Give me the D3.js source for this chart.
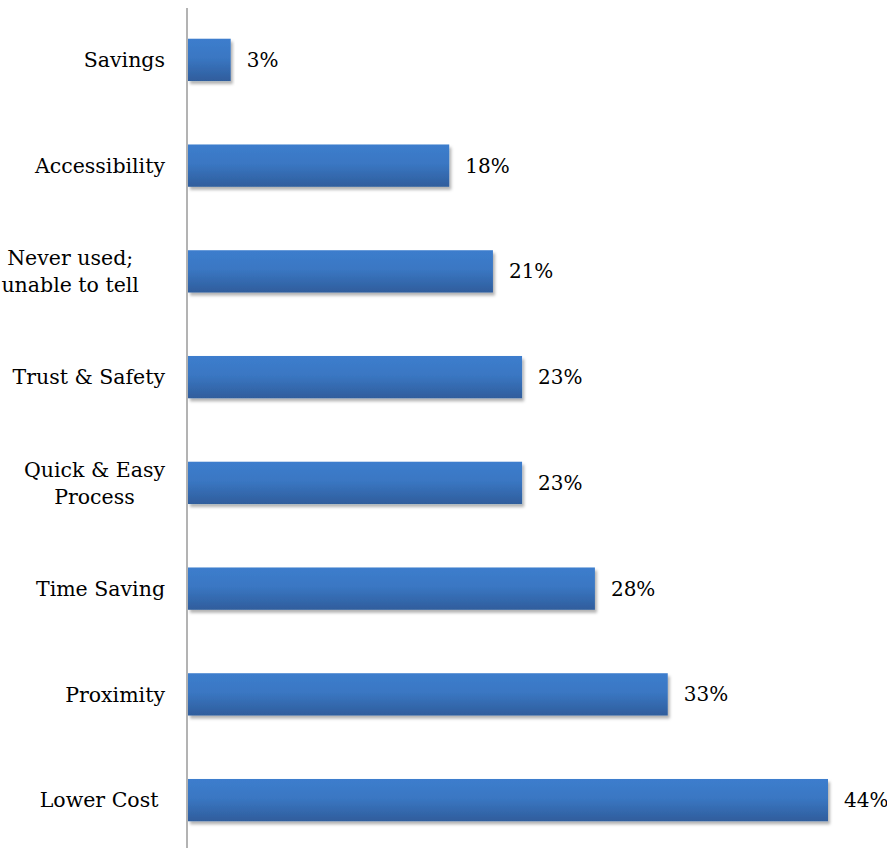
<!DOCTYPE html>
<html>
<head>
<meta charset="utf-8">
<script src="https://cdn.jsdelivr.net/npm/d3@7"></script>
<style>
  html, body { margin: 0; padding: 0; background: #fff; }
  svg { display: block; }
  text { white-space: pre; }
</style>
</head>
<body>
<svg id="chart" width="887" height="848"></svg>
<script>
// Reasons given, top to bottom, with the share of respondents (%)
const categories = [
  ["Savings"],
  ["Accessibility"],
  ["Never used;", "unable to tell    "],
  ["Trust & Safety"],
  ["Quick & Easy", "Process"],
  ["Time Saving"],
  ["Proximity"],
  ["Lower Cost "]
];
const values = [3, 18, 21, 23, 23, 28, 33, 44];
const valueLabels = ["3%", "18%", "21%", "23%", "23%", "28%", "33%", "44%"];

const svg = d3.select("#chart");
const axisX = 187;
const labelRight = 165;
const font = "'DejaVu Serif', 'Liberation Serif', serif";

const keys = categories.map((c, i) => i);
const y = d3.scaleBand().domain(keys).range([7, 853]).paddingInner(0.6).paddingOuter(0.3);
const x = d3.scaleLinear().domain([0, 44]).range([axisX, axisX + 641]);

// Bar fill: lighter blue at the top to a deeper blue at the bottom
const defs = svg.append("defs");
const grad = defs.append("linearGradient").attr("id", "barFill")
  .attr("x1", 0).attr("y1", 0).attr("x2", 0).attr("y2", 1);
grad.append("stop").attr("offset", "0%").attr("stop-color", "#3c7dcd");
grad.append("stop").attr("offset", "45%").attr("stop-color", "#3a77c3");
grad.append("stop").attr("offset", "100%").attr("stop-color", "#2f5d9c");

const shadow = defs.append("filter").attr("id", "barShadow")
  .attr("x", "-5%").attr("y", "-20%").attr("width", "115%").attr("height", "160%");
shadow.append("feDropShadow").attr("dx", 2).attr("dy", 3).attr("stdDeviation", 1.8)
  .attr("flood-color", "#000").attr("flood-opacity", 0.3);

svg.append("g").selectAll("rect")
  .data(values)
  .join("rect")
  .attr("x", x(0) + 1)
  .attr("y", (d, i) => y(i))
  .attr("width", d => x(d) - x(0) - 1)
  .attr("height", y.bandwidth())
  .attr("fill", "url(#barFill)")
  .attr("filter", "url(#barShadow)");

// Vertical category axis line
svg.append("line")
  .attr("x1", axisX).attr("x2", axisX)
  .attr("y1", 8).attr("y2", 848)
  .attr("stroke", "#9a9a9a").attr("stroke-width", 1.5);

// Category labels: block right-aligned (trailing spaces keep their room),
// wrapped lines centred on each other
const lineH = 27;
const catG = svg.append("g");
categories.forEach((lines, i) => {
  const cy = y(i) + y.bandwidth() / 2;
  const texts = lines.map((ln, j) => catG.append("text")
    .attr("font-family", font)
    .attr("font-size", 20.5)
    .attr("fill", "#000")
    .attr("y", cy + (j - (lines.length - 1) / 2) * lineH)
    .attr("dy", "0.35em")
    .text(ln));
  const fullW = texts.map(t => t.node().getComputedTextLength());
  const trimW = texts.map((t, j) => { t.text(lines[j].trimEnd()); return t.node().getComputedTextLength(); });
  const k = d3.maxIndex(trimW);
  const right = labelRight - (fullW[k] - trimW[k]);
  const cx = right - trimW[k] / 2;
  texts.forEach((t, j) => t.attr("x", cx - trimW[j] / 2));
});

// Value labels
svg.append("g").selectAll("text")
  .data(values)
  .join("text")
  .attr("x", d => x(d) + 16)
  .attr("y", (d, i) => y(i) + y.bandwidth() / 2)
  .attr("dy", "0.35em")
  .attr("font-family", font)
  .attr("font-size", 20)
  .attr("fill", "#000")
  .text((d, i) => valueLabels[i]);
</script>
</body>
</html>
